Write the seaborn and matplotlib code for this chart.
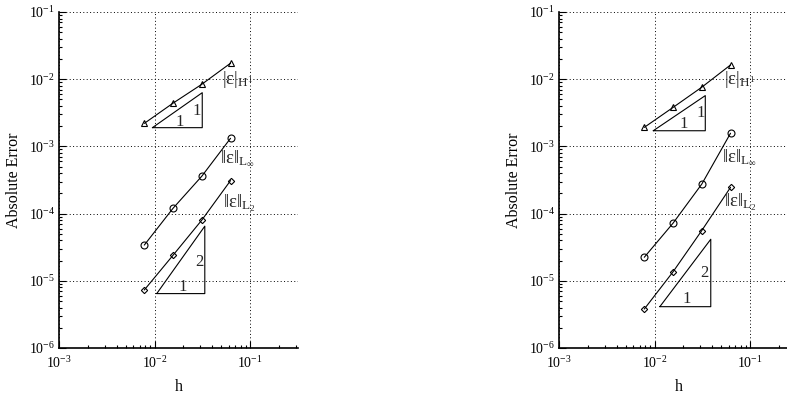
import numpy as np
import pandas as pd
import seaborn as sns
import matplotlib
matplotlib.use("Agg")
import matplotlib.pyplot as plt
from matplotlib.ticker import LogLocator, NullFormatter

# =========================
# DATA
# =========================
h = [1 / 128, 1 / 64, 1 / 32, 1 / 16]

h1_left = [2.2e-3, 4.4e-3, 8.4e-3, 1.73e-2]
linf_left = [3.4e-5, 1.2e-4, 3.6e-4, 1.32e-3]
l2_left = [7.3e-6, 2.4e-5, 8.0e-5, 3.1e-4]

h1_right = [1.92e-3, 3.8e-3, 7.6e-3, 1.63e-2]
linf_right = [2.24e-5, 7.2e-5, 2.75e-4, 1.57e-3]
l2_right = [3.8e-6, 1.36e-5, 5.6e-5, 2.46e-4]

norm_labels = [r"$|ε|_{H^1}$",
               r"$\|ε\|_{L_\infty}$",
               r"$\|ε\|_{L_2}$"]

# slope triangles: (x0, x1, y0, y1), label "1" pos and slope label pos
tri_left = [
    ((0.0095, 0.0316, 1.9e-3, 6.3e-3), (0.0185, 2.33e-3), (0.0277, 3.37e-3), "1"),
    ((0.01055, 0.0336, 6.45e-6, 6.5e-5), (0.0197, 8.0e-6), (0.0292, 1.92e-5), "2"),
]
tri_right = [
    ((0.0097, 0.034, 1.71e-3, 5.7e-3), (0.020, 2.15e-3), (0.0305, 3.11e-3), "1"),
    ((0.01137, 0.0388, 4.12e-6, 4.15e-5), (0.0217, 5.3e-6), (0.0336, 1.29e-5), "2"),
]

# label positions (left edge x, center y)
lab_left = [(0.0505, 1.0e-2), (0.049, 6.6e-4), (0.0515, 1.42e-4)]
lab_right = [(0.0528, 1.0e-2), (0.0512, 6.85e-4), (0.053, 1.47e-4)]

markers = ["^", "o", "D"]
msizes = [5, 5, 3.2]

# =========================
# STYLE
# =========================
sns.set_theme(style="ticks")
plt.rcParams["font.family"] = ["Liberation Serif", "DejaVu Serif"]
plt.rcParams["mathtext.fontset"] = "custom"
plt.rcParams["mathtext.rm"] = "Liberation Serif"
plt.rcParams["mathtext.it"] = "Liberation Serif"
plt.rcParams["mathtext.bf"] = "Liberation Serif:bold"

fig = plt.figure(figsize=(7.87, 3.95), dpi=100)
ax_l = fig.add_axes([59 / 787, 47 / 395, 238.8 / 787, 336 / 395])
ax_r = fig.add_axes([559 / 787, 47 / 395, 238.8 / 787, 336 / 395])


def draw_panel(ax, series, tris, labs):
    ax.set_xscale("log")
    ax.set_yscale("log")
    for vals, mk, ms in zip(series, markers, msizes):
        sns.lineplot(x=h, y=vals, ax=ax, color="black", linewidth=0.8,
                     marker=mk, markersize=ms, markerfacecolor="none",
                     markeredgecolor="black", markeredgewidth=0.8)
    for (x0, x1, y0, y1), p1, p2, s in tris:
        ax.plot([x0, x1, x1, x0], [y0, y0, y1, y0], color="black", lw=0.8)
        ax.text(p1[0], p1[1], "1", fontsize=12, ha="center", va="center")
        ax.text(p2[0], p2[1], s, fontsize=12, ha="center", va="center")
    for (x, y), txt in zip(labs, norm_labels):
        ax.text(x, y, txt, fontsize=13.5, ha="left", va="center")

    ax.set_xlim(1e-3, 10 ** -0.5)
    ax.set_ylim(1e-6, 1e-1)
    ax.grid(True, which="major", color="black", linestyle=(0, (1, 2.5)), linewidth=0.7)
    ax.xaxis.set_major_locator(LogLocator(base=10, numticks=10))
    ax.yaxis.set_major_locator(LogLocator(base=10, numticks=10))
    ax.xaxis.set_minor_locator(LogLocator(base=10, subs=np.arange(2, 10), numticks=20))
    ax.yaxis.set_minor_locator(LogLocator(base=10, subs=np.arange(2, 10), numticks=20))
    ax.xaxis.set_minor_formatter(NullFormatter())
    ax.yaxis.set_minor_formatter(NullFormatter())
    ax.tick_params(which="both", direction="in", color="black", labelsize=10,
                   labelcolor="black", width=0.8)
    ax.tick_params(which="major", length=5)
    ax.tick_params(which="minor", length=2.5)
    ax.tick_params(axis="x", pad=5)
    ax.tick_params(axis="y", pad=3)
    sns.despine(ax=ax)
    for sp in ["left", "bottom"]:
        ax.spines[sp].set_color("black")
        ax.spines[sp].set_linewidth(1.2)
    ax.set_xlabel("h", fontsize=11.5, color="black", labelpad=6)
    ax.set_ylabel("Absolute Error", fontsize=11.5, color="black", labelpad=5)
    ax.set_facecolor("white")


draw_panel(ax_l, [h1_left, linf_left, l2_left], tri_left, lab_left)
draw_panel(ax_r, [h1_right, linf_right, l2_right], tri_right, lab_right)

fig.savefig("out.png", dpi=100, facecolor="white")
